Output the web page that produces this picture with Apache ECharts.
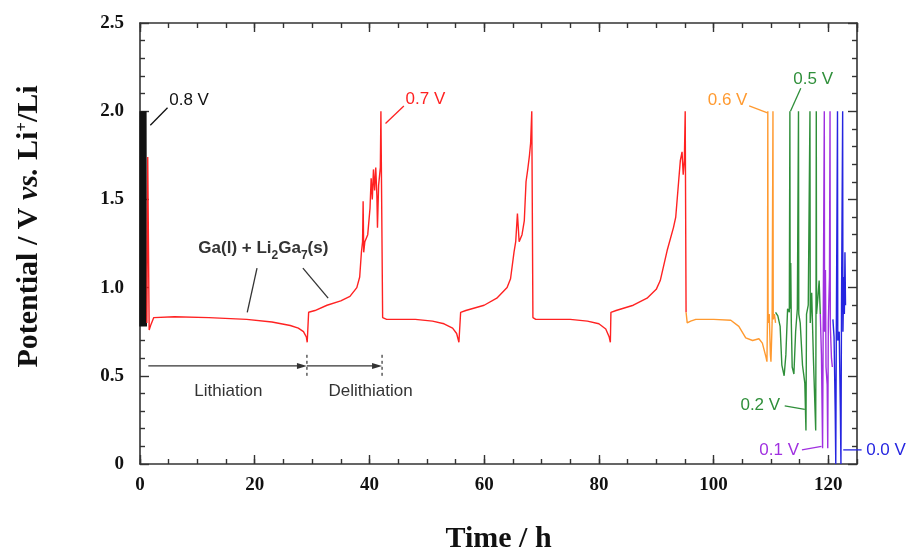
<!DOCTYPE html>
<html>
<head>
<meta charset="utf-8">
<title>Potential vs time</title>
<script src="https://cdn.jsdelivr.net/npm/echarts@6/dist/echarts.min.js"></script>
<style>
  html, body { margin: 0; padding: 0; background: #fff; }
  #chart { width: 909px; height: 553px; }
</style>
</head>
<body>
<div id="chart"></div>
<script>
// [time / h, potential / V vs. Li+/Li], one array per cut-off voltage
const cut08 = [[0, 0.78], [0.03, 2.0], [0.1, 0.78], [0.13, 2.0], [0.2, 0.78], [0.23, 2.0], [0.3, 0.78], [0.33, 2.0],
  [0.4, 0.78], [0.43, 2.0], [0.5, 0.78], [0.53, 2.0], [0.6, 0.78], [0.63, 2.0], [0.7, 0.78], [0.73, 2.0],
  [0.8, 0.78], [0.83, 2.0], [0.9, 0.78], [0.93, 2.0], [1.0, 0.78], [1.03, 2.0], [1.1, 0.78]]

const cut07 = [[1.2, 0.8], [1.35, 1.74], [1.5, 1.74], [1.6, 0.76], [1.9, 0.79], [2.4, 0.83], [6, 0.835], [12, 0.83],
  [18.6, 0.82], [23, 0.805], [26.2, 0.785], [27.6, 0.77], [28.5, 0.75], [29.0, 0.72], [29.15, 0.69], [29.3, 0.7],
  [29.4, 0.86], [30.5, 0.87], [32.6, 0.9], [35, 0.925], [36.6, 0.95], [37.8, 1.0], [38.3, 1.06], [38.6, 1.2],
  [38.8, 1.26], [38.9, 1.49], [39.0, 1.2], [39.2, 1.26], [39.7, 1.3], [40.1, 1.45], [40.3, 1.62], [40.5, 1.5],
  [40.7, 1.67], [40.9, 1.55], [41.1, 1.68], [41.3, 1.52], [41.4, 1.34], [41.6, 1.58], [41.9, 1.68], [42.0, 2.0],
  [42.2, 2.0], [42.3, 0.83], [43, 0.82], [48, 0.82], [51, 0.81], [53, 0.795], [54.5, 0.77], [55.2, 0.74],
  [55.6, 0.69], [55.8, 0.7], [55.9, 0.86], [56.8, 0.87], [60, 0.9], [62.2, 0.94], [64, 1.0], [64.6, 1.05],
  [65.2, 1.2], [65.5, 1.26], [65.8, 1.42], [66.1, 1.26], [66.6, 1.3], [67.0, 1.38], [67.3, 1.6], [67.6, 1.67],
  [67.9, 1.75], [68.1, 1.82], [68.3, 2.0], [68.4, 2.0], [68.5, 0.83], [69, 0.82], [75, 0.82], [78, 0.81],
  [80, 0.795], [81.2, 0.765], [81.8, 0.72], [82.0, 0.69], [82.1, 0.86], [83, 0.87], [86, 0.9], [88.4, 0.94],
  [90, 0.99], [90.7, 1.04], [91.9, 1.21], [93, 1.34], [93.4, 1.4], [93.9, 1.6], [94.2, 1.72], [94.5, 1.77],
  [94.7, 1.64], [94.9, 1.72], [95.05, 2.0], [95.15, 2.0], [95.2, 0.86]]

const cut06 = [[95.2, 0.86], [95.4, 0.8], [96.0, 0.81], [96.9, 0.82], [100, 0.82], [103, 0.815], [104.4, 0.78],
  [105.6, 0.715], [106.8, 0.7], [107.9, 0.71], [108.5, 0.685], [109.1, 0.61], [109.3, 0.58], [109.4, 0.85],
  [109.45, 2.0], [109.5, 0.8], [109.7, 0.85], [109.9, 0.62], [110.0, 0.58], [110.2, 0.8], [110.35, 2.0],
  [110.4, 0.82], [110.6, 0.85], [110.8, 0.8]]

const cut05 = [[110.8, 0.86], [111.2, 0.84], [111.6, 0.78], [111.9, 0.56], [112.3, 0.5], [112.6, 0.62], [112.9, 0.88],
  [113.2, 0.86], [113.3, 2.0], [113.35, 0.88], [113.45, 1.14], [113.55, 0.8], [113.7, 0.55], [114.0, 0.51],
  [114.3, 0.75], [114.6, 0.88], [114.8, 2.0], [114.85, 0.85], [115.1, 0.8], [115.5, 0.56], [115.9, 0.46],
  [116.1, 0.19], [116.2, 0.85], [116.5, 0.9], [116.8, 2.0], [116.85, 0.8], [117.1, 0.97], [117.4, 0.6],
  [117.8, 0.19], [117.85, 0.8], [117.9, 2.0], [117.95, 0.85], [118.2, 0.95], [118.4, 1.04], [118.6, 0.85]]

const cut01 = [[118.6, 0.85], [118.8, 0.62], [119.0, 0.09], [119.1, 0.75], [119.3, 2.0], [119.35, 0.75], [119.5, 1.1],
  [119.6, 0.55], [119.8, 0.45], [119.9, 0.09], [120.0, 0.8], [120.2, 1.06], [120.3, 2.0], [120.35, 0.78],
  [120.55, 0.6], [120.7, 0.55]]

const cut00 = [[120.8, 0.82], [121.0, 0.72], [121.2, 0.3], [121.3, 0.0], [121.4, 0.8], [121.5, 1.38], [121.6, 2.0],
  [121.65, 0.7], [121.9, 0.75], [122.1, 0.3], [122.2, 0.0], [122.3, 0.9], [122.5, 2.0], [122.55, 0.75],
  [122.7, 1.06], [122.8, 0.85], [122.9, 1.2], [123.0, 0.9]]

const xTicks = [0, 20, 40, 60, 80, 100, 120]
const yTicks = [0, 0.5, 1.0, 1.5, 2.0, 2.5]

const colors = {
  v08: '#111111', v07: '#ff2222', v06: '#ff9a30', v05: '#2f8f3a', v01: '#a030e0', v00: '#2525e0'
}

const serif = '"Liberation Serif", "Times New Roman", serif'
const sans = '"Liberation Sans", Arial, sans-serif'
const axisColor = '#333'

const chart = echarts.init(document.getElementById('chart'))

function xAxisDef(position, interval, tickLen, main) {
  return {
    type: 'value', position: position, min: 0, max: 125, interval: interval,
    axisLine: { show: main, onZero: false, lineStyle: { color: axisColor, width: 1.6 } },
    axisTick: { show: true, inside: true, length: tickLen, lineStyle: { color: axisColor, width: 1.4 } },
    axisLabel: {
      show: main && position === 'bottom', showMaxLabel: false, margin: 12,
      color: '#111', fontFamily: serif, fontWeight: 'bold', fontSize: 19,
      formatter: v => xTicks.includes(v) ? String(v) : ''
    },
    splitLine: { show: false }
  }
}

function yAxisDef(position, labels) {
  return {
    type: 'value', position: position, min: 0, max: 2.5, interval: 0.5,
    axisLine: { show: true, onZero: false, lineStyle: { color: axisColor, width: 1.6 } },
    axisTick: { show: true, inside: true, length: 9, lineStyle: { color: axisColor, width: 1.4 } },
    minorTick: { show: true, splitNumber: 5, length: 5, lineStyle: { color: axisColor, width: 1.4 } },
    axisLabel: {
      show: labels, margin: 16, color: '#111', fontFamily: serif, fontWeight: 'bold', fontSize: 19,
      formatter: v => yTicks.includes(v) ? (v === 0 ? '0' : v.toFixed(1)) : ''
    },
    splitLine: { show: false }
  }
}

const bottomMain = xAxisDef('bottom', 20, 9, true)
bottomMain.name = 'Time / h'
bottomMain.nameLocation = 'middle'
bottomMain.nameGap = 60
bottomMain.nameTextStyle = { color: '#111', fontFamily: serif, fontWeight: 'bold', fontSize: 30 }

const leftMain = yAxisDef('left', true)
leftMain.name = 'Potential / V {i|vs.} Li{sup|+}/Li'
leftMain.nameLocation = 'middle'
leftMain.nameRotate = 90
leftMain.nameGap = 96
leftMain.nameTextStyle = {
  color: '#111', fontFamily: serif, fontWeight: 'bold', fontSize: 30, padding: [0, 0, 0, 34],
  rich: {
    i: { fontFamily: serif, fontWeight: 'bold', fontStyle: 'italic', fontSize: 30, color: '#111' },
    sup: { fontFamily: serif, fontWeight: 'bold', fontSize: 17, color: '#111', verticalAlign: 'top' }
  }
}

function curve(name, data, color) {
  return {
    name: name, type: 'line', xAxisIndex: 0, yAxisIndex: 0, data: data,
    symbol: 'none', showSymbol: false, animation: false,
    lineStyle: { color: color, width: 1.4 }
  }
}

chart.setOption({
  animation: false,
  backgroundColor: '#fff',
  grid: { left: 140, right: 52, top: 23, bottom: 89, containLabel: false, outerBoundsMode: 'none' },
  xAxis: [bottomMain, xAxisDef('bottom', 5, 5, false), xAxisDef('top', 20, 9, true), xAxisDef('top', 5, 5, false)],
  yAxis: [leftMain, yAxisDef('right', false)],
  series: [
    curve('0.8 V', cut08, colors.v08),
    curve('0.7 V', cut07, colors.v07),
    curve('0.6 V', cut06, colors.v06),
    curve('0.5 V', cut05, colors.v05),
    curve('0.1 V', cut01, colors.v01),
    curve('0.0 V', cut00, colors.v00)
  ]
})

// annotations, positioned in data coordinates
const cutLabels = [
  { text: '0.8 V', color: colors.v08, at: [5.1, 2.06], align: 'left', leader: [[1.8, 1.92], [4.8, 2.02]] },
  { text: '0.7 V', color: colors.v07, at: [46.3, 2.07], align: 'left', leader: [[42.8, 1.93], [46.0, 2.03]] },
  { text: '0.6 V', color: colors.v06, at: [105.9, 2.06], align: 'right', leader: [[106.2, 2.03], [109.4, 1.99]] },
  { text: '0.5 V', color: colors.v05, at: [113.9, 2.18], align: 'left', leader: [[115.2, 2.13], [113.4, 2.0]] },
  { text: '0.2 V', color: colors.v05, at: [111.6, 0.33], align: 'right', leader: [[112.4, 0.33], [115.9, 0.31]] },
  { text: '0.1 V', color: colors.v01, at: [114.9, 0.08], align: 'right', leader: [[115.4, 0.08], [118.8, 0.1]] },
  { text: '0.0 V', color: colors.v00, at: [126.6, 0.08], align: 'left', leader: [[122.6, 0.08], [125.8, 0.08]] }
]
const phaseY = 0.556
const phaseBounds = [1.45, 29.1, 42.2]
const phaseNames = [{ text: 'Lithiation', at: [15.4, 0.41] }, { text: 'Delithiation', at: [40.2, 0.41] }]
const phaseNote = { at: [21.5, 1.22], leaders: [[[20.4, 1.11], [18.7, 0.86]], [[28.4, 1.11], [32.8, 0.94]]] }

function px(p) { return chart.convertToPixel({ xAxisIndex: 0, yAxisIndex: 0 }, p) }

const g = []
cutLabels.forEach(c => {
  g.push({ type: 'polyline', shape: { points: c.leader.map(px) }, style: { stroke: c.color, lineWidth: 1.3, fill: null }, z: 10 })
  const p = px(c.at)
  g.push({ type: 'text', x: p[0], y: p[1], z: 10,
    style: { text: c.text, fill: c.color, font: '17px ' + sans, align: c.align, verticalAlign: 'middle' } })
})

for (let i = 0; i < 2; i++) {
  const a = px([phaseBounds[i], phaseY])
  const b = px([phaseBounds[i + 1], phaseY])
  g.push({ type: 'line', shape: { x1: a[0], y1: a[1], x2: b[0] - 6, y2: b[1] }, style: { stroke: '#333', lineWidth: 1.3 }, z: 10 })
  g.push({ type: 'polygon', shape: { points: [[b[0], b[1]], [b[0] - 10, b[1] - 3], [b[0] - 10, b[1] + 3]] }, style: { fill: '#333' }, z: 10 })
}
phaseBounds.slice(1).forEach(t => {
  const a = px([t, 0.5])
  const b = px([t, 0.62])
  g.push({ type: 'line', shape: { x1: a[0], y1: a[1], x2: b[0], y2: b[1] }, style: { stroke: '#333', lineWidth: 1.2, lineDash: [3, 3] }, z: 10 })
})
phaseNames.forEach(n => {
  const p = px(n.at)
  g.push({ type: 'text', x: p[0], y: p[1], z: 10,
    style: { text: n.text, fill: '#333', font: '17px ' + sans, align: 'center', verticalAlign: 'middle' } })
})
const np = px(phaseNote.at)
g.push({ type: 'text', x: np[0], y: np[1], z: 10,
  style: {
    text: 'Ga(l) + Li{sub|2}Ga{sub|7}(s)', fill: '#333', font: 'bold 17px ' + sans,
    align: 'center', verticalAlign: 'middle',
    rich: { sub: { fontSize: 12, fontWeight: 'bold', fontFamily: sans, fill: '#333', verticalAlign: 'top', padding: [13, 0, 0, 0] } }
  } })
phaseNote.leaders.forEach(l => {
  g.push({ type: 'polyline', shape: { points: l.map(px) }, style: { stroke: '#333', lineWidth: 1.3, fill: null }, z: 10 })
})

chart.setOption({ graphic: g })
</script>
</body>
</html>
